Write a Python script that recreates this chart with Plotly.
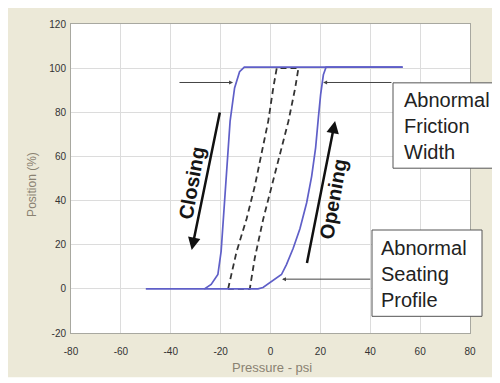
import plotly.graph_objects as go

# ---- data ----
closing_x = [53, -10.5, -12.4, -14.4, -16.2, -17.1, -18.0, -19.1, -19.8, -21.1, -23.8, -26.5, -50]
closing_y = [100.5, 100.5, 98.4, 91, 76, 61, 46.5, 31.7, 17, 6.5, 2, 0, 0]

opening_x = [-26.5, -5, -3, -0.3, 2.4, 4.4, 6.4, 9.1, 11.8, 14.5, 16.5, 18.1, 19.2, 20.1, 21.2, 22.3, 53]
opening_y = [0, 0, 0.6, 2.8, 5, 6.5, 11, 18.4, 27.2, 39, 51, 64, 77.6, 88, 97, 100.5, 100.5]

normal_x = [-17.0, -13.6, -9.6, -6.3, -3.6, -0.9, 1.1, 2.5, 11.2, 9.9, 7.2, 3.8, 0.5, -2.9, -6.3, -8.3, -17.0]
normal_y = [0, 16.9, 31.7, 46.5, 61.3, 76, 91, 100, 100, 91, 76, 61.3, 46.5, 31.7, 14, 0, 0]

x_ticks = [-80, -60, -40, -20, 0, 20, 40, 60, 80]
y_ticks = [-20, 0, 20, 40, 60, 80, 100, 120]

BLUE = "#5f5fc8"

fig = go.Figure()
fig.add_trace(go.Scatter(x=normal_x, y=normal_y, mode="lines",
                         line=dict(color="#333333", width=1.8, dash="6px,4px"),
                         hoverinfo="skip", showlegend=False))
fig.add_trace(go.Scatter(x=closing_x, y=closing_y, mode="lines",
                         line=dict(color=BLUE, width=1.7), showlegend=False))
fig.add_trace(go.Scatter(x=opening_x, y=opening_y, mode="lines",
                         line=dict(color=BLUE, width=1.7), showlegend=False))

# pixel (in the 500x383 window) -> paper coordinates; plot area spans 71..470 x 18..333
def px_x(p):
    return (p - 71) / 399.0

def px_y(p):
    return (333 - p) / 315.0

shapes = []
# white frame at right / bottom of the beige panel (page margin gives left / top)
for x0, x1, y0, y1 in [(px_x(492), 1.3, -0.3, 1.2), (-0.3, 1.3, -0.3, px_y(378))]:
    shapes.append(dict(type="rect", xref="paper", yref="paper", x0=x0, x1=x1, y0=y0, y1=y1,
                       fillcolor="white", line=dict(width=0), layer="above"))
# annotation boxes
shapes.append(dict(type="rect", xref="paper", yref="paper",
                   x0=px_x(393), x1=px_x(520), y0=px_y(165), y1=px_y(78),
                   fillcolor="white", line=dict(color="#555555", width=1), layer="above"))
shapes.append(dict(type="rect", xref="paper", yref="paper",
                   x0=px_x(372), x1=px_x(482), y0=px_y(316), y1=px_y(228),
                   fillcolor="white", line=dict(color="#555555", width=1), layer="above"))

FONT = "Liberation Sans, Arial"
annotations = [
    # friction width arrows
    dict(x=-15.0, y=93.5, ax=-37.1, ay=93.5, xref="x", yref="y", axref="x", ayref="y",
         showarrow=True, arrowhead=2, arrowsize=0.8, arrowwidth=1, arrowcolor="#444444", text=""),
    dict(x=21.1, y=93.5, ax=49.1, ay=93.5, xref="x", yref="y", axref="x", ayref="y",
         showarrow=True, arrowhead=2, arrowsize=0.8, arrowwidth=1, arrowcolor="#444444", text=""),
    # seating arrow
    dict(x=4.6, y=4.4, ax=40.6, ay=4.4, xref="x", yref="y", axref="x", ayref="y",
         showarrow=True, arrowhead=2, arrowsize=0.8, arrowwidth=1, arrowcolor="#444444", text=""),
    # closing / opening arrows
    dict(x=-31.6, y=17.6, ax=-20.2, ay=80.6, xref="x", yref="y", axref="x", ayref="y",
         showarrow=True, arrowhead=2, arrowsize=1, arrowwidth=2.5, arrowcolor="#111111", text=""),
    dict(x=25.9, y=76.1, ax=14.5, ay=11, xref="x", yref="y", axref="x", ayref="y",
         showarrow=True, arrowhead=2, arrowsize=1, arrowwidth=2.5, arrowcolor="#111111", text=""),
    dict(x=-31.6, y=48, xref="x", yref="y", text="<b>Closing</b>", showarrow=False,
         textangle=-80, font=dict(family=FONT, size=20, color="#151515")),
    dict(x=25.2, y=40.6, xref="x", yref="y", text="<b>Opening</b>", showarrow=False,
         textangle=-80, font=dict(family=FONT, size=20, color="#151515")),
    # box texts
    dict(x=px_x(402), y=px_y(122), xref="paper", yref="paper", xanchor="left", yanchor="middle",
         align="left", text="Abnormal<br>Friction<br>Width", showarrow=False,
         font=dict(family=FONT, size=20, color="#222222")),
    dict(x=px_x(379), y=px_y(273), xref="paper", yref="paper", xanchor="left", yanchor="middle",
         align="left", text="Abnormal<br>Seating<br>Profile", showarrow=False,
         font=dict(family=FONT, size=20, color="#222222")),
    # axis titles
    dict(x=px_x(32), y=px_y(182), xref="paper", yref="paper", text="Position (%)",
         showarrow=False, textangle=-90, xanchor="center", yanchor="middle",
         font=dict(family=FONT, size=12, color="#8a8272")),
    dict(x=px_x(272), y=px_y(368), xref="paper", yref="paper", text="Pressure - psi",
         showarrow=False, xanchor="center", yanchor="middle",
         font=dict(family=FONT, size=13, color="#8a8272")),
]

# the page body adds an 8px margin, so the figure is 492x375 and starts at (8, 8)
fig.update_layout(
    width=492, height=375,
    margin=dict(l=63, r=30, t=10, b=50),
    paper_bgcolor="#ECE9D8", plot_bgcolor="white",
    shapes=shapes, annotations=annotations,
    showlegend=False,
)
fig.update_xaxes(range=[-80, 80], tickvals=x_ticks, ticktext=[str(v) for v in x_ticks],
                 showgrid=True, gridcolor="#dcdcdc", gridwidth=1, zeroline=False,
                 showline=True, mirror=True, linecolor="#a8a8a0", linewidth=1,
                 ticks="outside", ticklen=9, tickcolor="rgba(0,0,0,0)",
                 tickfont=dict(family=FONT, size=10, color="#333333"),
                 tickprefix="<b>", ticksuffix="</b>")
fig.update_yaxes(range=[-20, 120], tickvals=y_ticks, ticktext=[str(v) for v in y_ticks],
                 showgrid=True, gridcolor="#dcdcdc", gridwidth=1, zeroline=False,
                 showline=True, mirror=True, linecolor="#a8a8a0", linewidth=1,
                 ticks="outside", ticklen=2, tickcolor="rgba(0,0,0,0)",
                 tickfont=dict(family=FONT, size=10, color="#333333"),
                 tickprefix="<b>", ticksuffix="</b>")

fig.write_html("out.html")
